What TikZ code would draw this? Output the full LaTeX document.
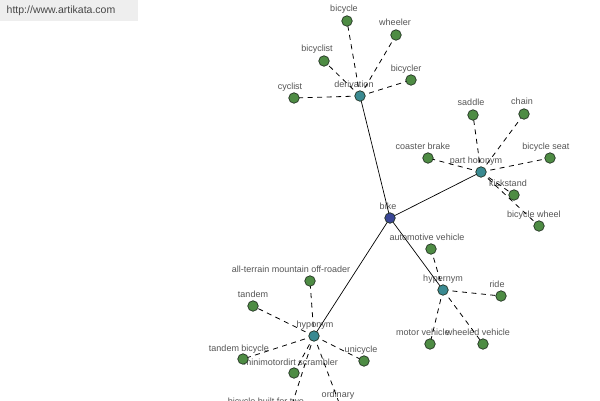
\documentclass[tikz,border=0pt]{standalone}
\usepackage{fontspec}
\setmainfont{Liberation Sans}
\pgfdeclarelayer{labels}
\pgfdeclarelayer{edges}
\pgfsetlayers{labels,edges,main}
\definecolor{leafgreen}{RGB}{78,140,68}
\definecolor{hubteal}{RGB}{58,138,145}
\definecolor{rootblue}{RGB}{58,70,150}
\definecolor{outline}{RGB}{35,50,35}
\definecolor{labelgray}{RGB}{85,85,85}
\definecolor{urlbg}{RGB}{238,238,238}
\tikzset{
  leaf/.style={circle,draw=outline,line width=0.7pt,fill=leafgreen,minimum size=10.5pt,inner sep=0pt},
  hub/.style={leaf,fill=hubteal},
  root/.style={leaf,fill=rootblue},
  lab/.style={font=\fontsize{9}{10}\selectfont,text=labelgray,inner sep=0pt,text height=6.5pt,text depth=1.8pt},
  solidedge/.style={draw=black,line width=0.7pt},
  dashedge/.style={draw=black,line width=0.8pt,dash pattern=on 5pt off 4.5pt}
}
\begin{document}
\begin{tikzpicture}[x=1pt,y=-1pt]
\useasboundingbox (0,0) rectangle (600,400);
% nodes
\node[root] (bike) at (390,218) {};
\node[hub] (deriv) at (360,96) {};
\node[hub] (part) at (481,172) {};
\node[hub] (hyper) at (443,290) {};
\node[hub] (hypo) at (314,336) {};
% derivation leaves
\node[leaf] (bicycle) at (347,21) {};
\node[leaf] (wheeler) at (396,35) {};
\node[leaf] (bicyclist) at (324,61) {};
\node[leaf] (bicycler) at (411,80) {};
\node[leaf] (cyclist) at (294,98) {};
% part holonym leaves
\node[leaf] (saddle) at (473,115) {};
\node[leaf] (chain) at (524,114) {};
\node[leaf] (coaster) at (428,158) {};
\node[leaf] (seat) at (550,158) {};
\node[leaf] (kickstand) at (514,195) {};
\node[leaf] (wheel) at (539,226) {};
% hypernym leaves
\node[leaf] (auto) at (431,249) {};
\node[leaf] (ride) at (501,296) {};
\node[leaf] (motorv) at (430,344) {};
\node[leaf] (wheeledv) at (483,344) {};
% hyponym leaves
\node[leaf] (allterrain) at (310,281) {};
\node[leaf] (tandem) at (253,306) {};
\node[leaf] (tandembic) at (243,359) {};
\node[leaf] (unicycle) at (364,361) {};
\node[leaf] (scrambler) at (294,373) {};
\node[leaf] (ordinary) at (341,408) {};
\node[leaf] (builtfortwo) at (290,411) {};
% labels
\begin{pgfonlayer}{labels}
\fill[white] (0,0) rectangle (600,400);
\node[fill=urlbg,minimum width=138pt,minimum height=21pt,inner sep=0pt,anchor=north west] (urlbox) at (0,0) {};
\node[font=\fontsize{10.5}{12}\selectfont,text={rgb,255:red,70;green,70;blue,70},inner sep=0pt] (url) at (61,11) {http://www.artikata.com};
\node[lab] (l-bike) at (388,207) {bike};
\node[lab] (l-deriv) at (354,85) {derivation};
\node[lab] (l-part) at (476,161) {part holonym};
\node[lab] (l-hyper) at (443,279) {hypernym};
\node[lab] (l-hypo) at (315,325) {hyponym};
\node[lab] (l-bicycle) at (344,9) {bicycle};
\node[lab] (l-wheeler) at (395,23) {wheeler};
\node[lab] (l-bicyclist) at (317,49) {bicyclist};
\node[lab] (l-bicycler) at (406,69) {bicycler};
\node[lab] (l-cyclist) at (290,87) {cyclist};
\node[lab] (l-saddle) at (471,103) {saddle};
\node[lab] (l-chain) at (522,102) {chain};
\node[lab] (l-coaster) at (423,147) {coaster brake};
\node[lab] (l-seat) at (546,147) {bicycle seat};
\node[lab] (l-kickstand) at (508,184) {kickstand};
\node[lab] (l-wheel) at (534,215) {bicycle wheel};
\node[lab] (l-auto) at (427,238) {automotive vehicle};
\node[lab] (l-ride) at (497,285) {ride};
\node[lab] (l-motorv) at (423,333) {motor vehicle};
\node[lab] (l-wheeledv) at (478,333) {wheeled vehicle};
\node[lab] (l-allterrain) at (291,270) {all-terrain mountain off-roader};
\node[lab] (l-tandem) at (253,295) {tandem};
\node[lab] (l-tandembic) at (239,349) {tandem bicycle};
\node[lab] (l-unicycle) at (361,350) {unicycle};
\node[lab] (l-scrambler) at (291,363) {minimotordirt scrambler};
\node[lab] (l-ordinary) at (338,395) {ordinary};
\node[lab] (l-builtfortwo) at (266,402) {bicycle built for two};
\end{pgfonlayer}
% edges
\begin{pgfonlayer}{edges}
\foreach \h in {deriv,part,hyper,hypo}
  \draw[solidedge] (bike.center) -- (\h.center);
\foreach \l in {bicycle,wheeler,bicyclist,bicycler,cyclist}
  \draw[dashedge] (deriv.center) -- (\l.center);
\foreach \l in {saddle,chain,coaster,seat,kickstand,wheel}
  \draw[dashedge] (part.center) -- (\l.center);
\foreach \l in {auto,ride,motorv,wheeledv}
  \draw[dashedge] (hyper.center) -- (\l.center);
\foreach \l in {allterrain,tandem,tandembic,unicycle,scrambler,ordinary,builtfortwo}
  \draw[dashedge] (hypo.center) -- (\l.center);
\end{pgfonlayer}
\end{tikzpicture}
\end{document}
